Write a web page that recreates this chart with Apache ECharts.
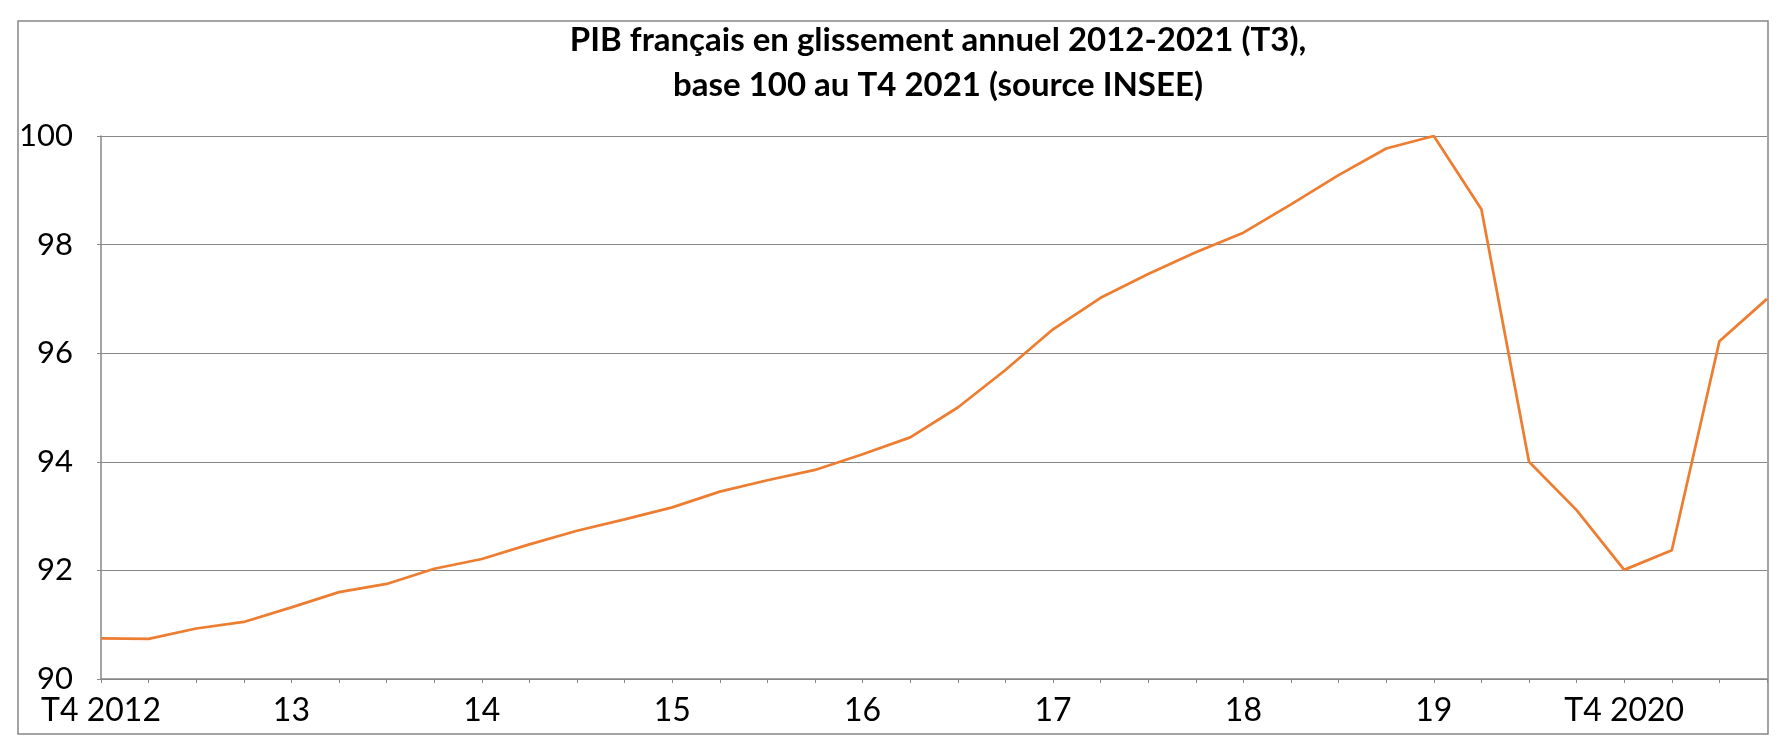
<!DOCTYPE html>
<html>
<head>
<meta charset="utf-8">
<script src="https://cdn.jsdelivr.net/npm/echarts@6/dist/echarts.min.js"></script>
<style>
  html, body { margin: 0; padding: 0; background: #ffffff; }
  #chart { width: 1788px; height: 754px; }
</style>
</head>
<body>
<div id="chart"></div>
<script>
// Quarters (category axis)
const categories = [
  "T4 2012",
  "T1 2013","T2 2013","T3 2013","T4 2013",
  "T1 2014","T2 2014","T3 2014","T4 2014",
  "T1 2015","T2 2015","T3 2015","T4 2015",
  "T1 2016","T2 2016","T3 2016","T4 2016",
  "T1 2017","T2 2017","T3 2017","T4 2017",
  "T1 2018","T2 2018","T3 2018","T4 2018",
  "T1 2019","T2 2019","T3 2019","T4 2019",
  "T1 2020","T2 2020","T3 2020","T4 2020",
  "T1 2021","T2 2021","T3 2021"
];

// Labels shown under the x axis (one per category, empty where none)
const xTickLabels = [
  "T4 2012",
  "","","","13",
  "","","","14",
  "","","","15",
  "","","","16",
  "","","","17",
  "","","","18",
  "","","","19",
  "","","","T4 2020",
  "","",""
];

// PIB, base 100
const pib = [
  90.75,
  90.74, 90.93, 91.05, 91.32,
  91.60, 91.75, 92.03, 92.21,
  92.48, 92.73, 92.94, 93.16,
  93.45, 93.66, 93.85, 94.14,
  94.45, 95.00, 95.69, 96.44,
  97.02, 97.46, 97.86, 98.22,
  98.74, 99.28, 99.77, 100.00,
  98.65, 94.00, 93.11, 92.01,
  92.37, 96.22, 97.00
];

const yMin = 90, yMax = 100, yStep = 2;

const titleLines = [
  "PIB français en glissement annuel 2012-2021 (T3),",
  "base 100 au T4 2021 (source INSEE)"
];

const gray = '#878787';
const font = 'Lato, "Open Sans", sans-serif';

const chart = echarts.init(document.getElementById('chart'), null, { renderer: 'canvas' });
chart.setOption({
  animation: false,
  backgroundColor: '#ffffff',
  graphic: [{
    type: 'rect',
    shape: { x: 18, y: 21, width: 1750, height: 713 },
    style: { fill: 'none', stroke: gray, lineWidth: 1.5 },
    silent: true
  }],
  title: {
    text: titleLines.join('\n'),
    left: 933,
    top: 13,
    textAlign: 'center',
    textStyle: {
      fontFamily: font,
      fontWeight: 'bold',
      fontSize: 33,
      lineHeight: 45,
      color: '#000000'
    }
  },
  grid: { left: 101, right: 21, top: 136, bottom: 75, containLabel: false },
  xAxis: {
    type: 'category',
    data: categories,
    boundaryGap: false,
    axisLine: { show: true, lineStyle: { color: gray, width: 1.5 } },
    axisTick: { show: true, interval: 0, length: 4, lineStyle: { color: gray, width: 1 } },
    axisLabel: {
      interval: 0,
      margin: 16,
      fontFamily: font,
      fontSize: 32,
      color: '#000000',
      formatter: function (v, i) { return xTickLabels[i]; }
    },
    splitLine: { show: false }
  },
  yAxis: {
    type: 'value',
    min: yMin, max: yMax, interval: yStep,
    axisLine: { show: true, lineStyle: { color: gray, width: 1.5 } },
    axisTick: { show: true, length: 4, lineStyle: { color: gray, width: 1 } },
    axisLabel: {
      margin: 28,
      fontFamily: font,
      fontSize: 31,
      color: '#000000'
    },
    splitLine: { show: true, lineStyle: { color: gray, width: 1.2 } }
  },
  series: [{
    type: 'line',
    data: pib,
    symbol: 'none',
    lineStyle: { color: '#ED7D31', width: 2.75 },
    itemStyle: { color: '#ED7D31' }
  }]
});
</script>
</body>
</html>
